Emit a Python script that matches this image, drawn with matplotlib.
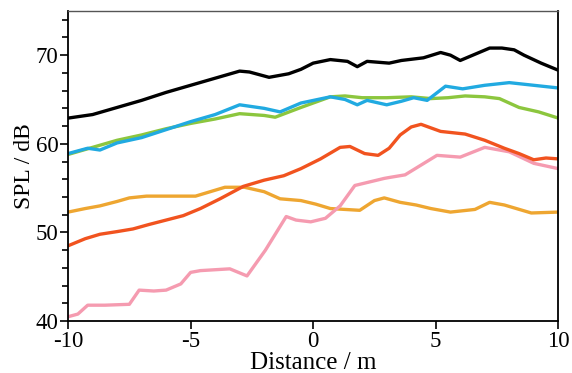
import matplotlib.pyplot as plt
from matplotlib.ticker import MultipleLocator

plt.rcParams["font.family"] = ["Liberation Serif", "DejaVu Serif"]
plt.rcParams["axes.unicode_minus"] = False

# SPL traces (distance in m, level in dB)
black_x = [-10, -9, -8, -7, -6, -5, -4, -3, -2.6, -1.8, -1, -0.5, 0, 0.7, 1.4, 1.8, 2.2, 3.1, 3.6, 4.5, 5.2, 5.6, 6.0, 6.6, 7.2, 7.7, 8.2, 8.6, 9.3, 10]
black_y = [62.9, 63.3, 64.1, 64.9, 65.8, 66.6, 67.4, 68.2, 68.1, 67.5, 67.9, 68.4, 69.1, 69.5, 69.3, 68.7, 69.3, 69.1, 69.4, 69.7, 70.3, 70.0, 69.4, 70.1, 70.8, 70.8, 70.6, 70.0, 69.1, 68.3]

blue_x = [-10, -9.2, -8.7, -8, -7, -6, -5, -4, -3, -2, -1.35, -0.5, 0.7, 1.3, 1.8, 2.2, 3.0, 3.6, 4.1, 4.65, 5.4, 6.1, 7, 8, 9, 10]
blue_y = [58.9, 59.5, 59.3, 60.1, 60.7, 61.6, 62.5, 63.3, 64.4, 64.0, 63.6, 64.6, 65.3, 65.0, 64.4, 64.9, 64.4, 64.8, 65.2, 64.9, 66.5, 66.2, 66.6, 66.9, 66.6, 66.3]

green_x = [-10, -9, -8, -7, -6, -5, -4, -3, -2, -1.55, -0.5, 0.7, 1.3, 2, 3, 4, 4.8, 5.5, 6.2, 7, 7.6, 8.4, 9.2, 10]
green_y = [58.8, 59.6, 60.4, 61.0, 61.7, 62.3, 62.8, 63.4, 63.2, 63.0, 64.1, 65.3, 65.4, 65.2, 65.2, 65.3, 65.1, 65.2, 65.4, 65.3, 65.1, 64.1, 63.6, 62.9]

red_x = [-10, -9.3, -8.7, -8, -7.35, -6.7, -6.0, -5.3, -4.6, -3.8, -2.85, -2.0, -1.2, -0.5, 0.3, 1.1, 1.5, 2.1, 2.65, 3.1, 3.55, 4.0, 4.4, 5.2, 6.2, 7.0, 7.8, 8.4, 9.0, 9.5, 10]
red_y = [48.5, 49.3, 49.8, 50.1, 50.4, 50.9, 51.4, 51.9, 52.7, 53.8, 55.2, 55.9, 56.4, 57.2, 58.3, 59.6, 59.7, 58.9, 58.7, 59.5, 61.0, 61.9, 62.2, 61.4, 61.1, 60.4, 59.5, 58.9, 58.2, 58.4, 58.3]

pink_x = [-10, -9.6, -9.2, -8.5, -7.5, -7.1, -6.5, -6.0, -5.4, -5.0, -4.6, -3.4, -2.7, -1.95, -1.1, -0.7, -0.1, 0.5, 1.1, 1.7, 2.3, 2.9, 3.1, 3.75, 4.4, 5.05, 6.0, 7.0, 8.0, 9.0, 10]
pink_y = [40.5, 40.8, 41.8, 41.8, 41.9, 43.5, 43.4, 43.5, 44.2, 45.5, 45.7, 45.9, 45.1, 48.0, 51.8, 51.4, 51.2, 51.6, 53.0, 55.3, 55.7, 56.1, 56.2, 56.5, 57.6, 58.7, 58.5, 59.6, 59.1, 57.8, 57.2]

orange_x = [-10, -9.3, -8.7, -8, -7.5, -6.8, -6.2, -4.8, -4.2, -3.6, -2.8, -2.0, -1.35, -0.5, 0.1, 0.7, 1.9, 2.5, 2.9, 3.55, 4.2, 4.8, 5.6, 6.6, 7.2, 7.8, 8.9, 10]
orange_y = [52.3, 52.7, 53.0, 53.5, 53.9, 54.1, 54.1, 54.1, 54.6, 55.1, 55.1, 54.6, 53.8, 53.6, 53.2, 52.7, 52.5, 53.6, 53.9, 53.4, 53.1, 52.7, 52.3, 52.6, 53.4, 53.1, 52.2, 52.3]

series = [
    (orange_x, orange_y, "#eea631"),
    (pink_x, pink_y, "#f59bb0"),
    (red_x, red_y, "#f1531f"),
    (green_x, green_y, "#8cc63e"),
    (blue_x, blue_y, "#21aae1"),
    (black_x, black_y, "#000000"),
]

fig = plt.figure(figsize=(5.72, 3.73), dpi=100)
ax = fig.add_axes([0.119, 0.139, 0.857, 0.832])

for xs, ys, c in series:
    ax.plot(xs, ys, color=c, lw=2.4, solid_capstyle="round", solid_joinstyle="round")

ax.set_xlim(-10, 10)
ax.set_ylim(40, 75)
ax.set_xticks([-10, -5, 0, 5, 10])
ax.set_yticks([40, 50, 60, 70])
ax.yaxis.set_minor_locator(MultipleLocator(2))
ax.tick_params(axis="both", which="major", direction="out", length=6, width=1.2,
               labelsize=16.5, pad=1, colors="black")
ax.tick_params(axis="y", which="minor", direction="out", length=4, width=1.2)

for side in ["left", "bottom", "right"]:
    ax.spines[side].set_linewidth(1.3)
ax.spines["top"].set_color("#555555")
ax.spines["top"].set_linewidth(1.0)

ax.set_xlabel("Distance / m", fontsize=18, labelpad=0)
ax.set_ylabel("SPL / dB", fontsize=17, labelpad=0)

fig.savefig("out.png", dpi=100)
